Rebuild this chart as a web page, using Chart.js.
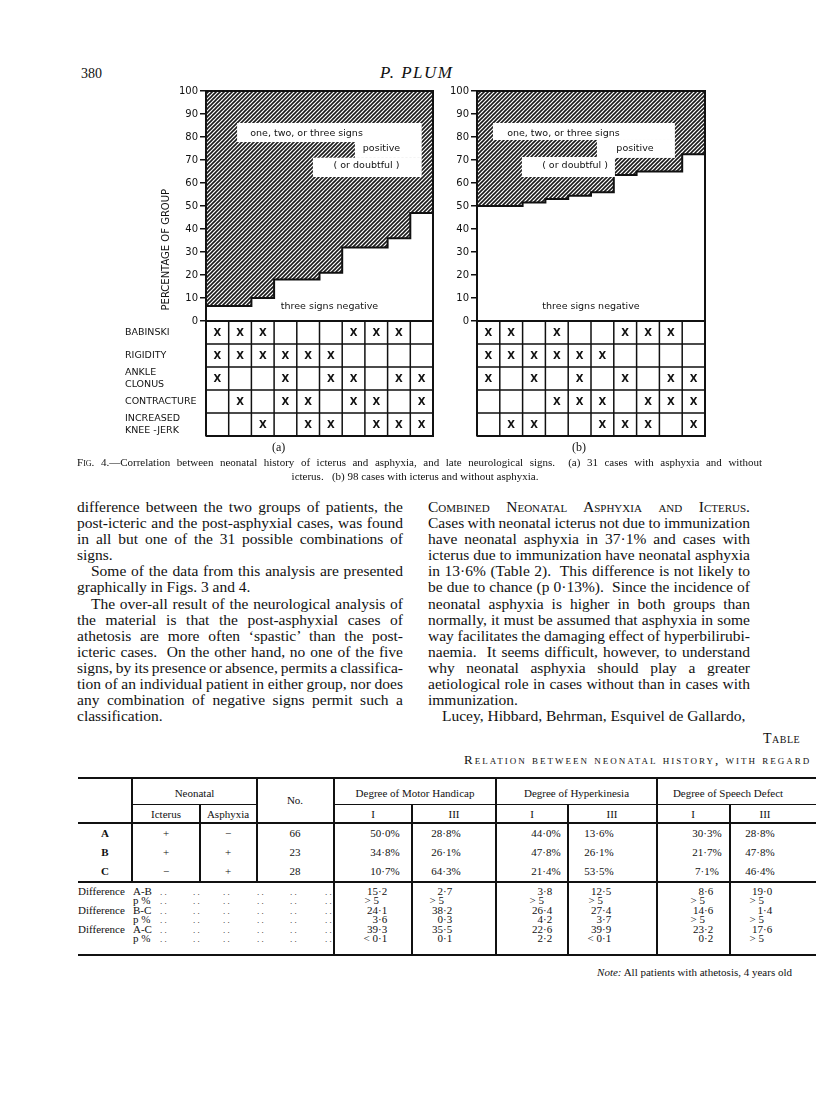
<!DOCTYPE html>
<html lang="en">
<head>
<meta charset="UTF-8">
<title>Fig. 4 - Plum</title>
<script src="https://cdn.jsdelivr.net/npm/chart.js"></script>
<style>
    body { margin: 0; background: #fff; }
    .page { position: relative; width: 816px; height: 1102px; overflow: hidden; color: #111; font-family: 'Liberation Serif', serif; }
    .abs { position: absolute; white-space: nowrap; }
    canvas { position: absolute; }
    .col { position: absolute; font-size: 15.5px; line-height: 16.1px; }
    .col div { white-space: nowrap; }
    .col .j { text-align: justify; text-align-last: justify; }
    .col .ind { text-indent: 14px; }
    .sc { font-variant: small-caps; }
    .t { position: absolute; font-size: 11px; line-height: 12px; white-space: nowrap; }
    .ln { position: absolute; background: #111; }
</style>
</head>
<body>
<div class="page" id="page">
    <div class="abs" style="left:81px; top:66px; font-size:14px;">380</div>
    <div class="abs" style="left:380px; top:63px; font-size:17px; font-style:italic; letter-spacing:1.5px;">P. PLUM</div>

    <canvas id="figA" width="320" height="370" style="left:120px; top:80px;"></canvas>
    <canvas id="figB" width="280" height="370" style="left:440px; top:80px;"></canvas>

    <div class="abs" style="left:272px; top:440px; font-size:12px;">(a)</div>
    <div class="abs" style="left:572px; top:440px; font-size:12px;">(b)</div>

    <div class="abs" style="left:77px; top:456px; width:685px; font-size:11px; text-align:justify; text-align-last:justify; white-space:normal;">F<span class="sc">ig</span>. 4.—Correlation between neonatal history of icterus and asphyxia, and late neurological signs.&nbsp; (a) 31 cases with asphyxia and without</div>
    <div class="abs" style="left:0; width:830px; top:470px; font-size:11px; text-align:center;">icterus.&nbsp;&nbsp; (b) 98 cases with icterus and without asphyxia.</div>

    <div class="col" style="left:77px; top:499px; width:326px;">
        <div class="j">difference between the two groups of patients, the</div>
        <div class="j">post-icteric and the post-asphyxial cases, was found</div>
        <div class="j">in all but one of the 31 possible combinations of</div>
        <div>signs.</div>
        <div class="j ind">Some of the data from this analysis are presented</div>
        <div>graphically in Figs. 3 and 4.</div>
        <div class="j ind">The over-all result of the neurological analysis of</div>
        <div class="j">the material is that the post-asphyxial cases of</div>
        <div class="j">athetosis are more often ‘spastic’ than the post-</div>
        <div class="j">icteric cases.&nbsp; On the other hand, no one of the five</div>
        <div class="j">signs, by its presence or absence, permits a classifica-</div>
        <div class="j">tion of an individual patient in either group, nor does</div>
        <div class="j">any combination of negative signs permit such a</div>
        <div>classification.</div>
    </div>

    <div class="col" style="left:428px; top:499px; width:322px;">
        <div class="j sc">Combined Neonatal Asphyxia and Icterus.</div>
        <div class="j">Cases with neonatal icterus not due to immunization</div>
        <div class="j">have neonatal asphyxia in 37·1% and cases with</div>
        <div class="j">icterus due to immunization have neonatal asphyxia</div>
        <div class="j">in 13·6% (Table 2).&nbsp; This difference is not likely to</div>
        <div class="j">be due to chance (p 0·13%).&nbsp; Since the incidence of</div>
        <div class="j">neonatal asphyxia is higher in both groups than</div>
        <div class="j">normally, it must be assumed that asphyxia in some</div>
        <div class="j">way facilitates the damaging effect of hyperbilirubi-</div>
        <div class="j">naemia.&nbsp; It seems difficult, however, to understand</div>
        <div class="j">why neonatal asphyxia should play a greater</div>
        <div class="j">aetiological role in cases without than in cases with</div>
        <div>immunization.</div>
        <div class="ind">Lucey, Hibbard, Behrman, Esquivel de Gallardo,</div>
    </div>

    <div class="abs sc" style="left:763px; top:731px; font-size:14px; letter-spacing:0.5px;">Table</div>
    <div class="abs sc" style="left:464px; top:752px; font-size:13px; letter-spacing:2px;">Relation between neonatal history, with regard</div>

    <div id="tbl"></div>
    <div class="abs" style="left:792px; top:966px; font-size:11px; transform:translateX(-100%);"><i>Note:</i> All patients with athetosis, 4 years old</div>
</div>

<script>
    // --- figure data ---
    const yTicks = [0, 10, 20, 30, 40, 50, 60, 70, 80, 90, 100];
    const signNames = [['BABINSKI'], ['RIGIDITY'], ['ANKLE', 'CLONUS'], ['CONTRACTURE'], ['INCREASED', 'KNEE -JERK']];
    // percentage with all three signs negative, per column (10 combinations)
    const negativeA = [6.5, 6.5, 10, 18, 18, 21, 32, 32, 36, 47];
    const negativeB = [50, 50, 51.5, 53, 54.5, 56, 63.5, 65, 65, 72.5];
    // X = sign present in that combination
    const marksA = ['XXX...XXX.', 'XXXXXX....', 'X..X.XX.XX', '.X.XX.XX.X', '..X.XX.XXX'];
    const marksB = ['XX.X..XXX.', 'XXXXXX....', 'X.X.X.X.XX', '...XXX.XXX', '.XX..XXX.X'];
    const boxLabels = ['one, two, or three signs', 'positive', '( or doubtful )'];
    const baseLabel = 'three signs negative';
    const yTitle = 'PERCENTAGE OF GROUP';

    // --- table data ---
    const groups = ['A', 'B', 'C'];
    const icterus = ['+', '+', '−'];
    const asphyxia = ['−', '+', '+'];
    const counts = ['66', '23', '28'];
    const motorI = ['50·0%', '34·8%', '10·7%'];
    const motorIII = ['28·8%', '26·1%', '64·3%'];
    const hyperI = ['44·0%', '47·8%', '21·4%'];
    const hyperIII = ['13·6%', '26·1%', '53·5%'];
    const speechI = ['30·3%', '21·7%', '7·1%'];
    const speechIII = ['28·8%', '47·8%', '46·4%'];
    const diffLabels = [['Difference', 'A-B'], ['', 'p %'], ['Difference', 'B-C'], ['', 'p %'], ['Difference', 'A-C'], ['', 'p %']];
    const diffMotorI = ['15·2', '> 5', '24·1', '3·6', '39·3', '< 0·1'];
    const diffMotorIII = ['2·7', '> 5', '38·2', '0·3', '35·5', '0·1'];
    const diffHyperI = ['3·8', '> 5', '26·4', '4·2', '22·6', '2·2'];
    const diffHyperIII = ['12·5', '> 5', '27·4', '3·7', '39·9', '< 0·1'];
    const diffSpeechI = ['8·6', '> 5', '14·6', '> 5', '23·2', '0·2'];
    const diffSpeechIII = ['19·0', '> 5', '1·4', '> 5', '17·6', '> 5'];

    const INK = '#111';
    const SANS = "'DejaVu Sans', sans-serif";

    // squeeze justified lines that are wider than their column
    document.querySelectorAll('.col .j').forEach(el => {
        const W = el.parentElement.clientWidth - (el.classList.contains('ind') ? 14 : 0);
        const s = document.createElement('span');
        s.innerHTML = el.innerHTML;
        s.style.whiteSpace = 'nowrap';
        el.innerHTML = '';
        el.appendChild(s);
        let w = s.getBoundingClientRect().width;
        if (w > W) {
            const espacos = (s.textContent.match(/ /g) || []).length || 1;
            const ws = Math.max(-(w - W + 1) / espacos, -1.6);
            el.style.wordSpacing = ws + 'px';
            w = s.getBoundingClientRect().width;
            if (w > W) el.style.letterSpacing = (-(w - W + 1) / s.textContent.length) + 'px';
        }
        el.innerHTML = s.innerHTML;
    });

    function hachura() {
        const c = document.createElement('canvas');
        c.width = 4; c.height = 4;
        const g = c.getContext('2d');
        g.strokeStyle = '#1a1a1a';
        g.lineWidth = 1.6;
        g.beginPath();
        g.moveTo(0, 4); g.lineTo(4, 0);
        g.moveTo(-1, 1); g.lineTo(1, -1);
        g.moveTo(3, 5); g.lineTo(5, 3);
        g.stroke();
        return g.createPattern(c, 'repeat');
    }

    // grid of signs + frame + white label boxes
    const quadro = {
        id: 'quadro',
        afterDatasetsDraw(chart, args, opts) {
            const { ctx, scales: { x, y } } = chart;
            ctx.save();
            ctx.strokeStyle = INK;

            // label boxes on the hatching
            ctx.fillStyle = '#fff';
            opts.boxes.forEach(b => {
                ctx.fillRect(x.getPixelForValue(b.x0), y.getPixelForValue(b.y1),
                    x.getPixelForValue(b.x1) - x.getPixelForValue(b.x0),
                    y.getPixelForValue(b.y0) - y.getPixelForValue(b.y1));
            });
            ctx.fillStyle = INK;
            ctx.font = '9.5px ' + SANS;
            ctx.textAlign = 'center';
            ctx.textBaseline = 'middle';
            opts.boxes.forEach((b, i) => {
                ctx.fillText(boxLabels[i], x.getPixelForValue(b.tx), y.getPixelForValue(b.ty));
            });
            ctx.fillText(baseLabel, x.getPixelForValue(opts.base.tx), y.getPixelForValue(opts.base.ty));

            // frame
            ctx.lineWidth = 2;
            ctx.beginPath();
            ctx.moveTo(x.getPixelForValue(0), y.getPixelForValue(100));
            ctx.lineTo(x.getPixelForValue(10), y.getPixelForValue(100));
            ctx.lineTo(x.getPixelForValue(10), y.getPixelForValue(-50));
            ctx.lineTo(x.getPixelForValue(0), y.getPixelForValue(-50));
            ctx.moveTo(x.getPixelForValue(0), y.getPixelForValue(0));
            ctx.lineTo(x.getPixelForValue(10), y.getPixelForValue(0));
            ctx.stroke();

            ctx.lineWidth = 1.5;
            ctx.beginPath();
            for (let r = 1; r < 5; r++) {
                ctx.moveTo(x.getPixelForValue(0), y.getPixelForValue(-10 * r));
                ctx.lineTo(x.getPixelForValue(10), y.getPixelForValue(-10 * r));
            }
            for (let c = 1; c < 10; c++) {
                ctx.moveTo(x.getPixelForValue(c), y.getPixelForValue(0));
                ctx.lineTo(x.getPixelForValue(c), y.getPixelForValue(-50));
            }
            ctx.stroke();

            // X marks
            ctx.font = 'bold 10px ' + SANS;
            opts.marks.forEach((row, r) => {
                for (let c = 0; c < row.length; c++) {
                    if (row[c] === 'X') {
                        ctx.fillText('X', x.getPixelForValue(c + 0.5), y.getPixelForValue(-10 * r - 5) + 0.5);
                    }
                }
            });

            // row names and axis title (left figure only)
            if (opts.rowNames) {
                ctx.font = '9.5px ' + SANS;
                ctx.textAlign = 'left';
                signNames.forEach((linhas, r) => {
                    const cy = y.getPixelForValue(-10 * r - 5);
                    linhas.forEach((t, k) => {
                        ctx.fillText(t, 5, cy + (k - (linhas.length - 1) / 2) * 12);
                    });
                });
                ctx.save();
                ctx.font = '10px ' + SANS;
                ctx.textAlign = 'center';
                ctx.translate(46, y.getPixelForValue(31));
                ctx.rotate(-Math.PI / 2);
                ctx.fillText(yTitle, 0, 0);
                ctx.restore();
            }
            ctx.restore();
        }
    };

    function criarFigura(id, negativos, marcas, cfg) {
        const pontos = negativos.map((v, i) => ({ x: i, y: v }));
        pontos.push({ x: 10, y: negativos[negativos.length - 1] });

        return new Chart(document.getElementById(id), {
            type: 'line',
            data: {
                datasets: [{
                    data: pontos,
                    stepped: 'before',
                    borderColor: INK,
                    borderWidth: 2,
                    pointRadius: 0,
                    fill: 'end',
                    backgroundColor: hachura()
                }]
            },
            options: {
                responsive: false,
                animation: false,
                layout: { padding: cfg.padding },
                plugins: {
                    legend: { display: false },
                    tooltip: { enabled: false },
                    quadro: { boxes: cfg.boxes, base: cfg.base, marks: marcas, rowNames: cfg.rowNames }
                },
                scales: {
                    x: { type: 'linear', min: 0, max: 10, display: false },
                    y: {
                        type: 'linear',
                        min: -50,
                        max: 100,
                        afterBuildTicks: (s) => { s.ticks = yTicks.map(v => ({ value: v })); },
                        afterFit: (s) => { s.width = cfg.axisWidth; },
                        ticks: { color: INK, font: { family: SANS, size: 10 }, padding: 2 },
                        grid: { drawOnChartArea: false, tickLength: 6, color: INK, lineWidth: 1.5 },
                        border: { color: INK, width: 2 }
                    }
                }
            },
            plugins: [quadro]
        });
    }

    criarFigura('figA', negativeA, marksA, {
        padding: { left: 30, top: 11, right: 7, bottom: 14 },
        axisWidth: 56,
        rowNames: true,
        boxes: [
            { x0: 1.37, x1: 9.5, y0: 77.8, y1: 86.1, tx: 4.43, ty: 81.3 },
            { x0: 6.56, x1: 9.5, y0: 70.9, y1: 77.9, tx: 7.73, ty: 74.8 },
            { x0: 4.71, x1: 9.5, y0: 62.6, y1: 71.0, tx: 7.07, ty: 67.4 }
        ],
        base: { tx: 5.44, ty: 6.5 }
    });

    criarFigura('figB', negativeB, marksB, {
        padding: { left: 5, top: 11, right: 15, bottom: 14 },
        axisWidth: 32,
        rowNames: false,
        boxes: [
            { x0: 0.7, x1: 8.68, y0: 78.7, y1: 86.1, tx: 3.79, ty: 81.7 },
            { x0: 5.26, x1: 8.68, y0: 70.9, y1: 78.8, tx: 6.93, ty: 74.8 },
            { x0: 1.97, x1: 6.05, y0: 62.6, y1: 71.3, tx: 4.3, ty: 67.4 }
        ],
        base: { tx: 5.0, ty: 6.5 }
    });

    // --- table 2 ---
    const tbl = document.getElementById('tbl');

    function texto(s, x, y, alinhar, extra) {
        const d = document.createElement('div');
        d.className = 't';
        d.innerHTML = s;
        d.style.left = x + 'px';
        d.style.top = (y - 6) + 'px';
        if (alinhar === 'c') d.style.transform = 'translateX(-50%)';
        if (alinhar === 'r') d.style.transform = 'translateX(-100%)';
        if (extra) d.style.cssText += extra;
        tbl.appendChild(d);
    }
    function linhaH(x1, x2, y, w) {
        const d = document.createElement('div');
        d.className = 'ln';
        d.style.cssText += `left:${x1}px; top:${y - w / 2}px; width:${x2 - x1}px; height:${w}px;`;
        tbl.appendChild(d);
    }
    function linhaV(x, y1, y2, w) {
        const d = document.createElement('div');
        d.className = 'ln';
        d.style.cssText += `left:${x - w / 2}px; top:${y1}px; width:${w}px; height:${y2 - y1}px;`;
        tbl.appendChild(d);
    }
    // value aligned on the decimal point
    function decimal(s, xd, y) {
        const p = s.indexOf('·');
        if (p < 0) { texto(s, xd + 1, y, 'r'); return; }
        texto(s.slice(0, p), xd, y, 'r');
        texto(s.slice(p), xd, y);
    }

    const L = 78, R = 816;
    linhaH(L, R, 778, 2.5);
    linhaH(132, 257, 804, 1);
    linhaH(334, R, 804, 1);
    linhaH(L, R, 823, 1.2);
    linhaH(L, R, 882, 2);
    linhaH(L, R, 955, 2.5);
    [132, 257].forEach(x => linhaV(x, 778, 882, 1.2));
    linhaV(200, 804, 882, 1.2);
    [334, 496, 657].forEach(x => linhaV(x, 778, 955, 1.5));
    [412, 568, 730].forEach(x => linhaV(x, 804, 955, 1.2));

    texto('Neonatal', 194.5, 793, 'c');
    texto('Icterus', 166, 814, 'c');
    texto('Asphyxia', 228, 814, 'c');
    texto('No.', 295, 800, 'c');
    texto('Degree of Motor Handicap', 415, 793, 'c');
    texto('Degree of Hyperkinesia', 576.5, 793, 'c');
    texto('Degree of Speech Defect', 728, 793, 'c');
    [[373, 'I'], [454, 'III'], [532, 'I'], [612, 'III'], [693, 'I'], [765, 'III']].forEach(([x, s]) => texto(s, x, 814, 'c'));

    const centros = [385, 446, 546, 599, 707, 760];
    const decs = [378, 443, 543, 602, 704, 763];
    const colunas = [motorI, motorIII, hyperI, hyperIII, speechI, speechIII];
    const difs = [diffMotorI, diffMotorIII, diffHyperI, diffHyperIII, diffSpeechI, diffSpeechIII];
    const ys = [833, 852, 871];
    groups.forEach((g, i) => {
        texto(g, 105, ys[i], 'c', 'font-weight:bold;');
        texto(icterus[i], 166, ys[i], 'c');
        texto(asphyxia[i], 228, ys[i], 'c');
        texto(counts[i], 295, ys[i], 'c');
        colunas.forEach((col, k) => texto(col[i], centros[k], ys[i], 'c'));
    });

    const dy = [891, 899.5, 910, 918.5, 929, 938];
    const pontinhos = [160, 193, 223, 257, 290, 325];
    diffLabels.forEach(([a, b], i) => {
        if (a) texto(a, 78, dy[i]);
        texto(b, 133, dy[i]);
        pontinhos.forEach(x => texto('. .', x, dy[i] + 1, null, 'font-size:9px;'));
        difs.forEach((col, k) => decimal(col[i], decs[k], dy[i]));
    });
</script>
</body>
</html>
